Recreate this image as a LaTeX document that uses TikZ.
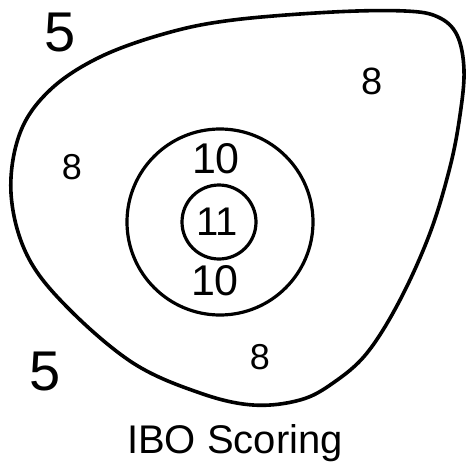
\documentclass[tikz,border=0pt]{standalone}
\usepackage{fontspec}
\setmainfont{Liberation Sans}
\usepackage{tikz}

\begin{document}
\begin{tikzpicture}[x=1pt, y=-1pt,
    ring/.style={line width=3.2pt},
    score/.style={inner sep=0pt, font=\fontsize{#1}{#1}\selectfont},
    score/.default=36]
    \useasboundingbox (0,0) rectangle (474,466);

    % Outer target outline
    \draw[line width=3.6pt] plot[smooth cycle, tension=0.6] coordinates {
        (333,12) (405,11) (438,17) (457,35) (464,70) (460,115) (450,167)
        (430,233) (400,300) (367,353) (333,383) (300,400) (253,405)
        (200,393) (133,363) (67,307) (27,255) (11,193) (20,133) (50,90)
        (100,57) (167,33) (233,20)};

    % Rings
    \draw[ring] (220,222) circle (93);
    \draw[ring] (219,222) circle (37);

    % Scores
    \node[score=56] (fiveTop) at (60,33) {5};
    \node[score=56] (fiveBot) at (45,372) {5};
    \node[score=38] (eightRight) at (372,81) {8};
    \node[score=36] (eightLeft) at (72,167) {8};
    \node[score=36] (eightBot) at (260,357) {8};
    \node[score=43] (tenTop) at (216,159) {10};
    \node[score=43] (tenBot) at (215,281) {10};
    \node[score=40] (eleven) at (217,222) {11};

    % Caption
    \node[score=40, anchor=base] (caption) at (235,453) {IBO Scoring};
\end{tikzpicture}
\end{document}
